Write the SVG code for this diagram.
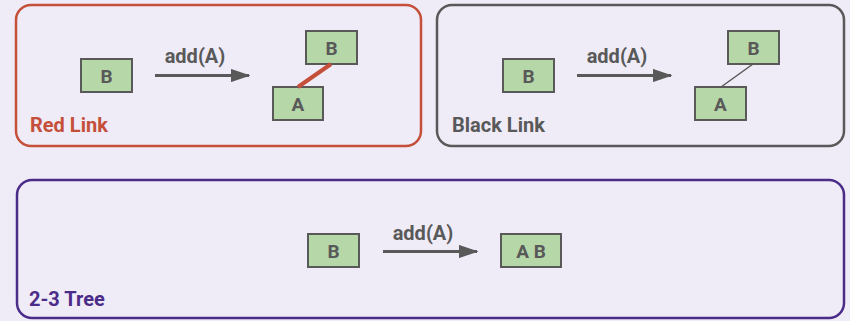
<svg xmlns="http://www.w3.org/2000/svg" width="850" height="321" viewBox="0 0 850 321">
<defs>
<style>
.panel{fill:#efebf7;stroke-width:2.5}
.box{fill:#b6d7a8;stroke:#595959;stroke-width:2}
.nt{font-family:Roboto,"Liberation Sans",sans-serif;font-weight:bold;font-size:19px;fill:#595959;text-anchor:middle}
.lbl{font-family:Roboto,"Liberation Sans",sans-serif;font-weight:bold;font-size:20px}
.arr{stroke:#595959;stroke-width:3;fill:none;marker-end:url(#ah)}
</style>
<marker id="ah" markerWidth="6.5" markerHeight="4.4" refX="6" refY="2.2" orient="auto" markerUnits="strokeWidth" viewBox="0 0 6.5 4.4">
<path d="M0,0 L6.5,2.2 L0,4.4 Z" fill="#595959"/>
</marker>
</defs>
<rect width="850" height="321" fill="#efebf7"/>
<g id="panel-red">
<rect class="panel" x="16" y="5" width="405" height="141" rx="15" stroke="#c5503a"/>
<text class="lbl" x="30" y="132" fill="#c5503a">Red Link</text>
</g>
<g id="panel-black">
<rect class="panel" x="437" y="5" width="407" height="141" rx="15" stroke="#595959"/>
<text class="lbl" x="452" y="132" fill="#595959">Black Link</text>
</g>
<g id="panel-tree">
<rect class="panel" x="17" y="180" width="827" height="138" rx="15" stroke="#4b2c89"/>
<text class="lbl" x="29" y="306" fill="#4b2c89">2-3 Tree</text>
</g>
<g id="red-B0"><rect class="box" x="81" y="59" width="51" height="33"/><text class="nt" x="106.5" y="82.5">B</text></g>
<g id="red-B"><rect class="box" x="306" y="31" width="51" height="33"/><text class="nt" x="331.5" y="54.5">B</text></g>
<g id="red-A"><rect class="box" x="273" y="87" width="50" height="33"/><text class="nt" x="298" y="110.5">A</text></g>
<g id="black-B0"><rect class="box" x="503" y="59" width="51" height="33"/><text class="nt" x="528.5" y="82.5">B</text></g>
<g id="black-B"><rect class="box" x="728" y="31" width="51" height="33"/><text class="nt" x="753.5" y="54.5">B</text></g>
<g id="black-A"><rect class="box" x="695" y="87" width="51" height="33"/><text class="nt" x="720.5" y="110.5">A</text></g>
<g id="tree-B"><rect class="box" x="308" y="234" width="51" height="33"/><text class="nt" x="333.5" y="257.5">B</text></g>
<g id="tree-AB"><rect class="box" x="501" y="234" width="60" height="33"/><text class="nt" x="531" y="257.5">A B</text></g>
<g id="connectors">
<line x1="155" y1="75.5" x2="249" y2="75.5" class="arr"/>
<text class="lbl" x="195" y="63" fill="#595959" text-anchor="middle">add(A)</text>
<line x1="577" y1="75.5" x2="671" y2="75.5" class="arr"/>
<text class="lbl" x="617" y="63" fill="#595959" text-anchor="middle">add(A)</text>
<line x1="383" y1="251.5" x2="477" y2="251.5" class="arr"/>
<text class="lbl" x="423" y="240" fill="#595959" text-anchor="middle">add(A)</text>
<line x1="331" y1="64" x2="298" y2="87" stroke="#c5503a" stroke-width="4"/>
<line x1="753" y1="64" x2="721" y2="87" stroke="#595959" stroke-width="1.5"/>
</g>
</svg>
